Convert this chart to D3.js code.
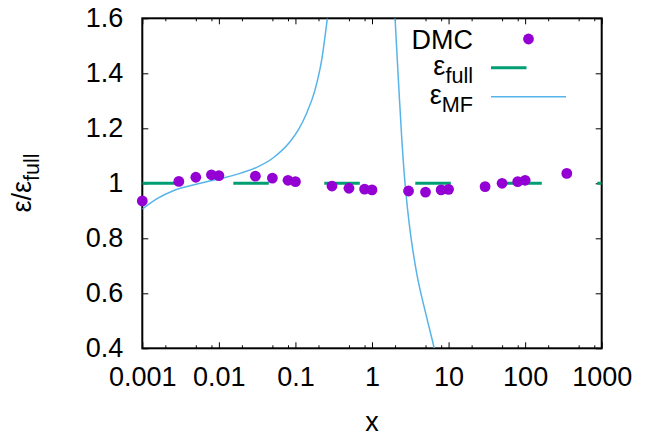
<!DOCTYPE html>
<html>
<head>
<meta charset="utf-8">
<script src="https://cdn.jsdelivr.net/npm/d3@7"></script>
<style>
  html, body { margin: 0; padding: 0; background: #fff; }
  svg { display: block; font-family: "Liberation Sans", Arial, Helvetica, sans-serif; }
</style>
</head>
<body>
<svg id="chart" width="650" height="437"></svg>
<script>
// ---- data ----
const dmcX = [0.001, 0.003, 0.005, 0.008, 0.01, 0.03, 0.05, 0.08, 0.1, 0.3, 0.5, 0.8, 1, 3, 5, 8, 10, 30, 50, 80, 100, 350];
const dmcY = [0.936, 1.007, 1.022, 1.031, 1.028, 1.026, 1.019, 1.011, 1.006, 0.990, 0.982, 0.979, 0.976, 0.972, 0.968, 0.976, 0.978, 0.988, 1.000, 1.006, 1.011, 1.036];

const fullX = [0.001, 1000];
const fullY = [1, 1];

const mfLeftX = [0.001, 0.00154, 0.00254, 0.0042, 0.0069, 0.0114, 0.0189, 0.0312, 0.0514, 0.0849, 0.109, 0.140, 0.180, 0.220, 0.261];
const mfLeftY = [0.906, 0.943, 0.973, 0.991, 1.006, 1.019, 1.036, 1.058, 1.093, 1.151, 1.194, 1.255, 1.339, 1.448, 1.600];

const mfRightX = [2.0, 2.20, 2.44, 2.70, 3.28, 3.99, 5.15, 6.51];
const mfRightY = [1.600, 1.388, 1.169, 1.000, 0.790, 0.648, 0.515, 0.400];

const xMajorTicks = [0.001, 0.01, 0.1, 1, 10, 100, 1000];
const xTickLabels = ["0.001", "0.01", "0.1", "1", "10", "100", "1000"];
const yTicks = [0.4, 0.6, 0.8, 1.0, 1.2, 1.4, 1.6];
const yTickLabels = ["0.4", "0.6", "0.8", "1", "1.2", "1.4", "1.6"];
const xMinorMultipliers = [2, 5, 8];

// ---- layout ----
const L = 142.3, R = 601.7, T = 18.3, B = 348.3;
const FS = 27;
const colDMC = "#9400D3", colFull = "#009E73", colMF = "#56B4E9";

const svg = d3.select("#chart");
const x = d3.scaleLog().domain([0.001, 1000]).range([L, R]);
const y = d3.scaleLinear().domain([0.4, 1.6]).range([B, T]);

svg.append("defs").append("clipPath").attr("id", "plotclip")
  .append("rect").attr("x", L).attr("y", T).attr("width", R - L).attr("height", B - T);

// minor ticks
const xMinor = [];
for (let e = -3; e < 3; e++) xMinorMultipliers.forEach(m => xMinor.push(m * Math.pow(10, e)));

function styleAxis(g) {
  g.select(".domain").remove();
  g.selectAll(".tick line").attr("stroke", "#000").attr("stroke-width", 1);
  g.selectAll("text").attr("font-size", FS).attr("fill", "#000").attr("font-family", "Liberation Sans, Arial, sans-serif");
}

// bottom axis (labels)
svg.append("g").attr("transform", `translate(0,${B})`)
  .call(d3.axisBottom(x).tickValues(xMajorTicks).tickSizeInner(-6).tickSizeOuter(0).tickPadding(19)
    .tickFormat((d, i) => xTickLabels[i]))
  .call(styleAxis);
svg.append("g").attr("transform", `translate(0,${B})`)
  .call(d3.axisBottom(x).tickValues(xMinor).tickSizeInner(-3).tickSizeOuter(0).tickFormat(""))
  .call(styleAxis);
// top axis (mirror ticks)
svg.append("g").attr("transform", `translate(0,${T})`)
  .call(d3.axisTop(x).tickValues(xMajorTicks).tickSizeInner(-6).tickSizeOuter(0).tickFormat(""))
  .call(styleAxis);
svg.append("g").attr("transform", `translate(0,${T})`)
  .call(d3.axisTop(x).tickValues(xMinor).tickSizeInner(-3).tickSizeOuter(0).tickFormat(""))
  .call(styleAxis);
// left axis
svg.append("g").attr("transform", `translate(${L},0)`)
  .call(d3.axisLeft(y).tickValues(yTicks).tickSizeInner(-6).tickSizeOuter(0).tickPadding(19)
    .tickFormat((d, i) => yTickLabels[i]))
  .call(styleAxis);
// right axis (mirror)
svg.append("g").attr("transform", `translate(${R},0)`)
  .call(d3.axisRight(y).tickValues(yTicks).tickSizeInner(-6).tickSizeOuter(0).tickFormat(""))
  .call(styleAxis);

// border
svg.append("rect").attr("x", L).attr("y", T).attr("width", R - L).attr("height", B - T)
  .attr("fill", "none").attr("stroke", "#000").attr("stroke-width", 2);

// lines
const plot = svg.append("g").attr("clip-path", "url(#plotclip)");
const line = d3.line().x(d => x(d[0])).y(d => y(d[1]));
const curve = d3.line().x(d => x(d[0])).y(d => y(d[1])).curve(d3.curveMonotoneX);

plot.append("path").datum(fullX.map((v, i) => [v, fullY[i]]))
  .attr("d", line).attr("fill", "none").attr("stroke", colFull).attr("stroke-width", 3)
  .attr("stroke-dasharray", "35.5,55.5");

plot.append("path").datum(mfLeftX.map((v, i) => [v, mfLeftY[i]]))
  .attr("d", curve).attr("fill", "none").attr("stroke", colMF).attr("stroke-width", 1.5);
plot.append("path").datum(mfRightX.map((v, i) => [v, mfRightY[i]]))
  .attr("d", d3.line().x(d => x(d[0])).y(d => y(d[1])).curve(d3.curveMonotoneY))
  .attr("fill", "none").attr("stroke", colMF).attr("stroke-width", 1.5);

// DMC points
svg.append("g").selectAll("circle").data(dmcX.map((v, i) => [v, dmcY[i]])).join("circle")
  .attr("cx", d => x(d[0])).attr("cy", d => y(d[1])).attr("r", 5.4).attr("fill", colDMC);

// legend
const lg = svg.append("g").attr("font-size", FS).attr("fill", "#000");
const legX = 473, sx0 = 491, sx1 = 566;
lg.append("text").attr("x", legX).attr("y", 48.5).attr("text-anchor", "end").text("DMC");
lg.append("circle").attr("cx", (sx0 + sx1) / 2).attr("cy", 39).attr("r", 5.4).attr("fill", colDMC);

const t2 = lg.append("text").attr("x", legX).attr("y", 75).attr("text-anchor", "end");
t2.append("tspan").text("ε");
t2.append("tspan").attr("dy", 8).attr("font-size", FS * 0.8).text("full");
lg.append("line").attr("x1", sx0).attr("x2", sx1).attr("y1", 67.7).attr("y2", 67.7)
  .attr("stroke", colFull).attr("stroke-width", 3).attr("stroke-dasharray", "35.5,55.5");

const t3 = lg.append("text").attr("x", legX).attr("y", 104).attr("text-anchor", "end");
t3.append("tspan").text("ε");
t3.append("tspan").attr("dy", 8).attr("font-size", FS * 0.8).text("MF");
lg.append("line").attr("x1", sx0).attr("x2", sx1).attr("y1", 96.7).attr("y2", 96.7)
  .attr("stroke", colMF).attr("stroke-width", 1.5);

// axis titles
svg.append("text").attr("x", 372).attr("y", 431).attr("text-anchor", "middle")
  .attr("font-size", FS).text("x");
const yl = svg.append("text").attr("transform", "translate(31,183) rotate(-90)")
  .attr("text-anchor", "middle").attr("font-size", FS);
yl.append("tspan").text("ε/ε");
yl.append("tspan").attr("dy", 8).attr("font-size", FS * 0.8).text("full");
</script>
</body>
</html>
